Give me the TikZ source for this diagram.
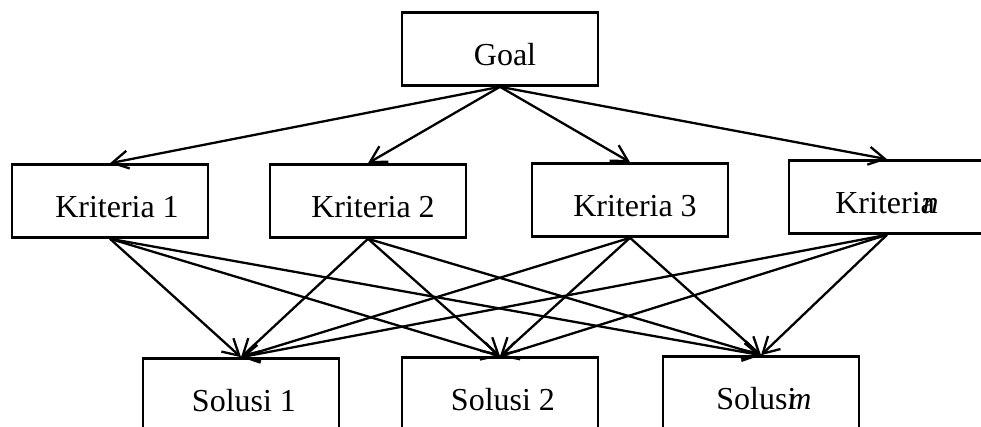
\documentclass[tikz,border=0pt]{standalone}
\usepackage{fontspec}
\setmainfont{Liberation Serif}
\usetikzlibrary{arrows.meta}
\tikzset{
  levelbox/.style={
    draw=black,
    line width=2.6pt,
    minimum width=196pt,
    minimum height=73pt,
    inner sep=0pt,
    text height=32pt,
    text depth=0pt,
    font=\fontsize{32}{36}\selectfont
  },
  linkarrow/.style={
    -{Straight Barb[length=16pt,width=18pt]},
    line width=2.3pt
  }
}

\begin{document}
\begin{tikzpicture}[x=1pt,y=-1pt]
\clip (0,0) rectangle (981,426);
\node[levelbox] (goal) at (500,49) {\hspace{10pt}Goal};
\node[levelbox] (krit1) at (110,201) {\hspace{14pt}Kriteria 1};
\node[levelbox] (krit2) at (368,201) {\hspace{10pt}Kriteria 2};
\node[levelbox] (krit3) at (630,200) {\hspace{10pt}Kriteria 3};
\node[levelbox] (kritn) at (887,197) {Kriteria\kern-.38em\textit{n}};
\node[levelbox] (sol1) at (241,395) {\hspace{6pt}Solusi 1};
\node[levelbox] (sol2) at (500,394) {\hspace{6pt}Solusi 2};
\node[levelbox] (solm) at (761,393) {\hspace{6pt}Solusi\kern-.25em\textit{m}};
% goal to criteria
\draw[linkarrow] (goal.south) -- (krit1.north);
\draw[linkarrow] (goal.south) -- (krit2.north);
\draw[linkarrow] (goal.south) -- (krit3.north);
\draw[linkarrow] (goal.south) -- (kritn.north);
% criteria to solutions
\draw[linkarrow] (krit1.south) -- (sol1.north);
\draw[linkarrow] (krit1.south) -- (sol2.north);
\draw[linkarrow] (krit1.south) -- (solm.north);
\draw[linkarrow] (krit2.south) -- (sol1.north);
\draw[linkarrow] (krit2.south) -- (sol2.north);
\draw[linkarrow] (krit2.south) -- (solm.north);
\draw[linkarrow] (krit3.south) -- (sol1.north);
\draw[linkarrow] (krit3.south) -- (sol2.north);
\draw[linkarrow] (krit3.south) -- (solm.north);
\draw[linkarrow] (kritn.south) -- (sol1.north);
\draw[linkarrow] (kritn.south) -- (sol2.north);
\draw[linkarrow] (kritn.south) -- (solm.north);
\end{tikzpicture}
\end{document}
